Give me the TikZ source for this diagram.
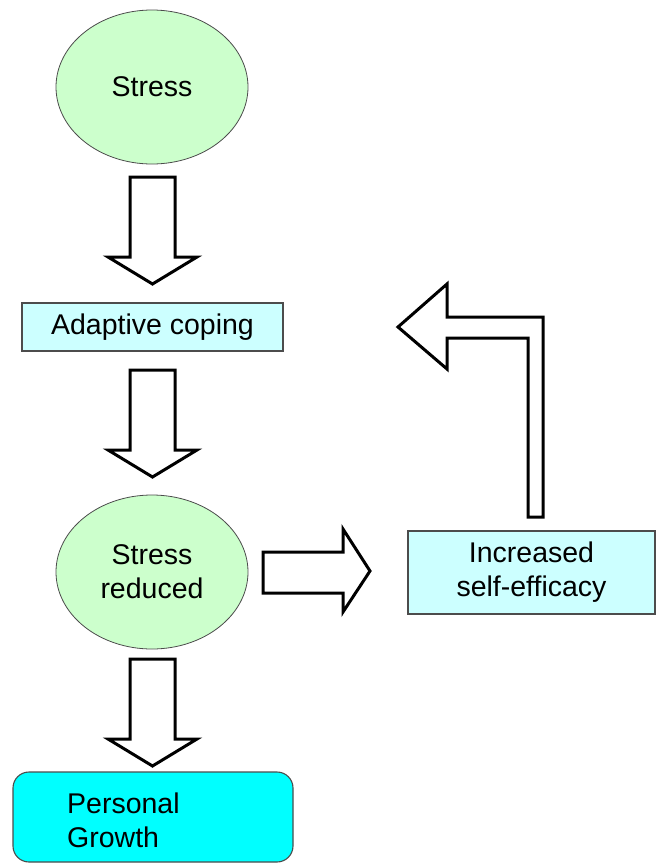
\documentclass[tikz,border=0pt]{standalone}
\usepackage{fontspec}
\setmainfont{Liberation Sans}
\usetikzlibrary{shapes.geometric}
\definecolor{lgreen}{HTML}{CCFFCC}
\definecolor{lcyan}{HTML}{CCFFFF}
\definecolor{bcyan}{HTML}{00FFFF}
\begin{document}
\begin{tikzpicture}[x=1pt,y=-1pt,
  txt/.style={font=\fontsize{28.5}{34}\selectfont, text=black},
  oval/.style={ellipse, draw=black!70, line width=0.8pt, fill=lgreen,
    minimum width=192pt, minimum height=154pt, inner sep=0pt, align=center, txt},
  box/.style={rectangle, draw=black!70, line width=1.1pt, fill=lcyan, inner sep=0pt, align=center, txt},
  blk/.style={draw=black, line width=3pt, fill=white, line join=miter},
  darrow/.pic={\draw[blk] (-22.5,0) -- (22.5,0) -- (22.5,80) -- (44.5,80) -- (0,107) -- (-44.5,80) -- (-22.5,80) -- cycle;}
]
\useasboundingbox (0,0) rectangle (656,865);

\node[oval] (stress) at (152,87) {Stress};
\node[box, minimum width=261pt, minimum height=48pt] (cope) at (152.5,327) {Adaptive coping};
\node[oval] (reduced) at (152,572) {Stress\\reduced};
\node[box, minimum width=247pt, minimum height=83pt] (self) at (531.5,572.5) {Increased\\self-efficacy};
\node[rectangle, rounded corners=16pt, draw=black!70, line width=1.1pt, fill=bcyan,
      minimum width=280pt, minimum height=90pt, inner sep=0pt] (growth) at (153,817) {};
\node[txt, anchor=west, align=left, inner sep=0pt] (growthtxt) at (67,820) {Personal\\Growth};

\pic at (152.5,177) {darrow};
\pic at (152.5,370) {darrow};
\pic at (152.5,659) {darrow};

\draw[blk] (263,552) -- (343,552) -- (343,529) -- (370,571) -- (343,612) -- (343,593) -- (263,593) -- cycle;

\draw[blk] (528,517) -- (543,517) -- (543,317) -- (447,317) -- (447,284) -- (398,327) -- (447,369) -- (447,338) -- (528,338) -- cycle;
\end{tikzpicture}
\end{document}
